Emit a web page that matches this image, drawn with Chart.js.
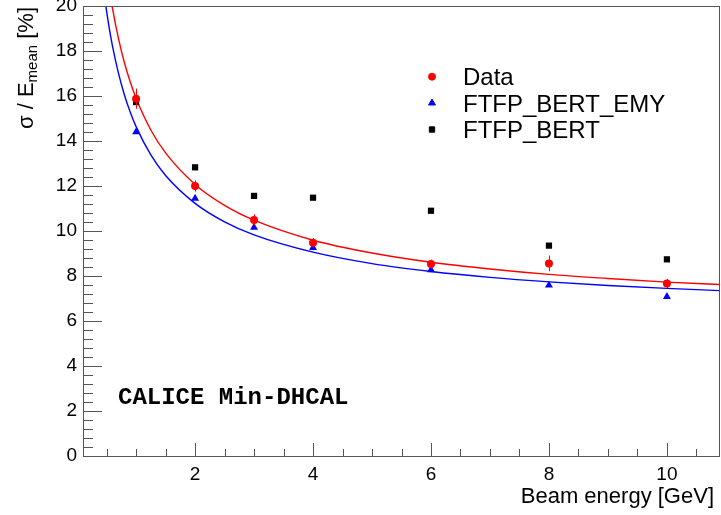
<!DOCTYPE html>
<html>
<head>
<meta charset="utf-8">
<script src="https://cdn.jsdelivr.net/npm/chart.js@4.4.1/dist/chart.umd.min.js"></script>
<style>
  html, body { margin: 0; padding: 0; background: #fff; }
  #wrap { width: 721px; height: 515px; }
</style>
</head>
<body>
<div id="wrap"><canvas id="c"></canvas></div>
<script>
// valeurs
const energies = [1, 2, 3, 4, 6, 8, 10];
const dataRes  = [15.88, 12.0, 10.49, 9.48, 8.53, 8.56, 7.67];
const dataErr  = [0.45, 0.25, 0.25, 0.2, 0.2, 0.35, 0.2];
const emyRes   = [14.4, 11.45, 10.16, 9.26, 8.27, 7.59, 7.08];
const bertRes  = [15.73, 12.83, 11.56, 11.48, 10.9, 9.35, 8.74];

// courbes d'ajustement (lues le long des traits)
const fitE    = [0.45, 0.5, 0.55, 0.6, 0.7, 0.8, 0.9, 1, 1.25, 1.5, 2, 2.5, 3, 4, 5, 6, 7, 8, 9, 10, 10.9];
const dataFit = [22.5, 21.6, 20.7, 19.89, 18.57, 17.5, 16.63, 15.9, 14.49, 13.47, 12.07, 11.14, 10.48, 9.59, 9.02, 8.61, 8.31, 8.07, 7.89, 7.73, 7.62];
const emyFit  = [20.7, 19.77, 18.94, 18.22, 17.03, 16.07, 15.29, 14.64, 13.38, 12.47, 11.23, 10.41, 9.83, 9.06, 8.55, 8.2, 7.94, 7.74, 7.58, 7.45, 7.35];

const xTicks = [2, 4, 6, 8, 10];
const yTicks = [0, 2, 4, 6, 8, 10, 12, 14, 16, 18, 20];

const legendItems = [
    { label: 'Data', style: 'circle', color: '#ff0000', r: 3.5 },
    { label: 'FTFP_BERT_EMY', style: 'triangle', color: '#0000ff', r: 4 },
    { label: 'FTFP_BERT', style: 'rect', color: '#000000', r: 3.8 }
];

const toXY = (xs, ys) => xs.map((x, i) => ({ x: x, y: ys[i] }));

// cadre, graduations internes, barres d'erreur, textes
const rootStyle = {
    id: 'rootStyle',
    afterDatasetsDraw(chart) {
        const ctx = chart.ctx;
        const xs = chart.scales.x, ys = chart.scales.y;

        // barres d'erreur des données
        ctx.save();
        ctx.strokeStyle = '#ff0000';
        ctx.lineWidth = 1;
        energies.forEach((e, i) => {
            const px = Math.round(xs.getPixelForValue(e)) + 0.5;
            ctx.beginPath();
            ctx.moveTo(px, ys.getPixelForValue(dataRes[i] - dataErr[i]));
            ctx.lineTo(px, ys.getPixelForValue(dataRes[i] + dataErr[i]));
            ctx.stroke();
        });
        ctx.restore();
    },
    afterDraw(chart) {
        const ctx = chart.ctx;
        const xs = chart.scales.x, ys = chart.scales.y;
        const a = chart.chartArea;
        ctx.save();
        ctx.strokeStyle = '#555';
        ctx.lineWidth = 1;
        ctx.strokeRect(Math.round(a.left) + 0.5, Math.round(a.top) + 0.5,
                       Math.round(a.right - a.left) - 1, Math.round(a.bottom - a.top));

        ctx.beginPath();
        // y : majeures tous les 2, mineures tous les 0.4
        for (let v = 0; v <= 20.001; v += 0.4) {
            const py = Math.round(ys.getPixelForValue(v)) + 0.5;
            const major = Math.abs(v / 2 - Math.round(v / 2)) < 1e-6;
            ctx.moveTo(a.left, py);
            ctx.lineTo(a.left + (major ? 19 : 10), py);
        }
        // x : majeures tous les 2, mineures tous les 0.5
        for (let v = 0.5; v <= 10.8; v += 0.5) {
            const px = Math.round(xs.getPixelForValue(v)) + 0.5;
            const major = Math.abs(v / 2 - Math.round(v / 2)) < 1e-6;
            ctx.moveTo(px, a.bottom);
            ctx.lineTo(px, a.bottom - (major ? 13 : 7));
        }
        ctx.stroke();

        // titre de l'axe x
        ctx.fillStyle = '#000';
        ctx.font = '22px "Liberation Sans", Arial, sans-serif';
        ctx.textAlign = 'right';
        ctx.textBaseline = 'alphabetic';
        ctx.fillText('Beam energy [GeV]', 714, 503);

        // titre de l'axe y avec indice
        ctx.save();
        ctx.translate(33, 7);
        ctx.rotate(-Math.PI / 2);
        ctx.textAlign = 'left';
        const big = '22px "Liberation Sans", Arial, sans-serif';
        const small = '15px "Liberation Sans", Arial, sans-serif';
        ctx.font = big;
        const w1 = ctx.measureText('\u03c3 / E').width;
        const w3 = ctx.measureText(' [%]').width;
        ctx.font = small;
        const w2 = ctx.measureText('mean').width;
        let x0 = -(w1 + w2 + w3);
        ctx.font = big;
        ctx.fillText('\u03c3 / E', x0, 0);
        ctx.font = small;
        ctx.fillText('mean', x0 + w1, 4);
        ctx.font = big;
        ctx.fillText(' [%]', x0 + w1 + w2, 0);
        ctx.restore();

        // étiquette CALICE
        ctx.font = 'bold 24px "Liberation Mono", "Courier New", monospace';
        ctx.textAlign = 'left';
        ctx.fillText('CALICE Min-DHCAL', 118, 404);

        // légende
        const rows = [76.7, 103, 129.5];
        legendItems.forEach((it, i) => {
            ctx.fillStyle = it.color;
            ctx.strokeStyle = it.color;
            Chart.helpers.drawPoint(ctx, {
                pointStyle: it.style, radius: it.r, rotation: 0, borderWidth: 1
            }, 432, rows[i]);
            ctx.fillStyle = '#000';
            ctx.font = '24px "Liberation Sans", Arial, sans-serif';
            ctx.fillText(it.label, 463, rows[i] + 8.5);
        });
        ctx.restore();
    }
};

new Chart(document.getElementById('c'), {
    type: 'scatter',
    data: {
        datasets: [
            {
                label: 'Data', data: toXY(energies, dataRes),
                pointStyle: 'circle', pointRadius: 4, pointHoverRadius: 4,
                backgroundColor: '#ff0000', borderColor: '#ff0000', borderWidth: 0
            },
            {
                label: 'FTFP_BERT_EMY', data: toXY(energies, emyRes),
                pointStyle: 'triangle', pointRadius: 4.6, pointHoverRadius: 4.6,
                backgroundColor: '#0000ff', borderColor: '#0000ff', borderWidth: 0
            },
            {
                label: 'FTFP_BERT', data: toXY(energies, bertRes),
                pointStyle: 'rect', pointRadius: 4.4, pointHoverRadius: 4.4,
                backgroundColor: '#000000', borderColor: '#000000', borderWidth: 0
            },
            {
                label: 'fit Data', data: toXY(fitE, dataFit), type: 'line',
                showLine: true, pointRadius: 0, borderColor: '#ff0000', borderWidth: 1.4,
                cubicInterpolationMode: 'monotone', fill: false, clip: 0
            },
            {
                label: 'fit EMY', data: toXY(fitE, emyFit), type: 'line',
                showLine: true, pointRadius: 0, borderColor: '#0000ff', borderWidth: 1.4,
                cubicInterpolationMode: 'monotone', fill: false, clip: 0
            }
        ]
    },
    options: {
        responsive: true,
        maintainAspectRatio: false,
        animation: false,
        events: [],
        layout: { autoPadding: false, padding: { top: 6, right: 1, left: 0, bottom: 0 } },
        plugins: { legend: { display: false }, tooltip: { enabled: false } },
        scales: {
            x: {
                type: 'linear', min: 0.1, max: 10.9,
                grid: { display: false, drawTicks: false },
                border: { display: false },
                afterBuildTicks: s => { s.ticks = xTicks.map(v => ({ value: v })); },
                afterFit: s => {
                    s.height = 59;
                    s.paddingLeft = 0; s.paddingRight = 0;
                },
                ticks: {
                    color: '#000', padding: 7, maxRotation: 0, autoSkip: false,
                    font: { family: '"Liberation Sans", Arial, sans-serif', size: 19 }
                }
            },
            y: {
                type: 'linear', min: 0, max: 20,
                grid: { display: false, drawTicks: false },
                border: { display: false },
                afterBuildTicks: s => { s.ticks = yTicks.map(v => ({ value: v })); },
                afterFit: s => {
                    s.width = 83;
                    s.paddingTop = 0; s.paddingBottom = 0;
                },
                ticks: {
                    color: '#000', padding: 6, autoSkip: false,
                    font: { family: '"Liberation Sans", Arial, sans-serif', size: 19 }
                }
            }
        }
    },
    plugins: [rootStyle]
});
</script>
</body>
</html>
